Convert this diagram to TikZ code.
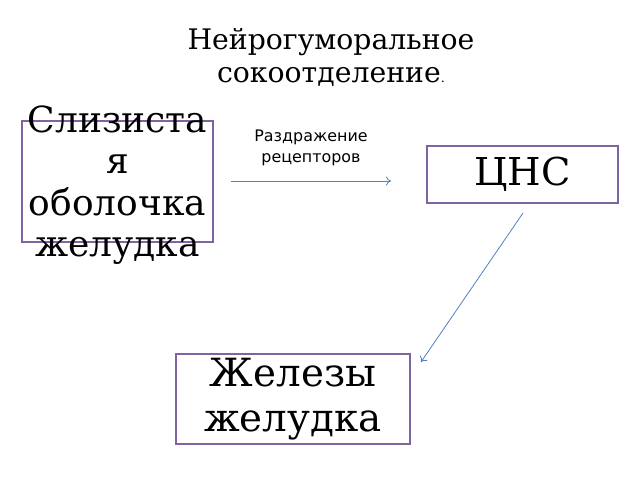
\documentclass[tikz,border=0pt]{standalone}
\usepackage{fontspec}
\usetikzlibrary{arrows.meta}
\setmainfont{DejaVu Serif}
\newfontfamily\labelfont{DejaVu Sans}
\definecolor{boxline}{HTML}{8064A2}
\definecolor{arrowline}{HTML}{4F81BD}
\tikzstyle{organ}=[rectangle,draw=boxline,line width=1.2pt,inner sep=0pt]
\tikzstyle{big}=[align=center,inner sep=0pt,font=\fontsize{36}{41.5}\selectfont]
\tikzstyle{signal}=[draw=arrowline,line width=0.8pt,-{To[length=5pt,width=9pt]}]

\begin{document}
\begin{tikzpicture}[x=1pt,y=-1pt]
		\useasboundingbox (0,0) rectangle (640,480);
		\node (title) at (331,57) [align=center,font=\fontsize{28.3}{33}\selectfont] {Нейрогуморальное\\сокоотделение{\fontsize{13}{13}\selectfont.}};
		
		\node (mucosa) at (117.5,181.5) [organ,minimum width=191pt,minimum height=121pt] {};
		\node (mucosatext) at (117.5,185) [big] {Слизиста\\я\\оболочка\\желудка};
		\node (cns) at (522.5,174.5) [organ,minimum width=191pt,minimum height=57pt,font=\fontsize{38.4}{40}\selectfont] {ЦНС};
		\node (glands) at (293,399) [organ,minimum width=234pt,minimum height=90pt,big,font=\fontsize{38.8}{45}\selectfont] {Железы\\желудка};
		
		\node (irritation) at (311,148) [align=center,font=\labelfont\fontsize{15.9}{21}\selectfont] {Раздражение\\рецепторов};
		
		\coordinate (a1) at (231,181);
		\coordinate (a2) at (391,181);
		\coordinate (b1) at (523,213);
		\coordinate (b2) at (421,362);
		\draw [signal] (a1)--(a2);
		\draw [signal] (b1)--(b2);
	\end{tikzpicture}
\end{document}
